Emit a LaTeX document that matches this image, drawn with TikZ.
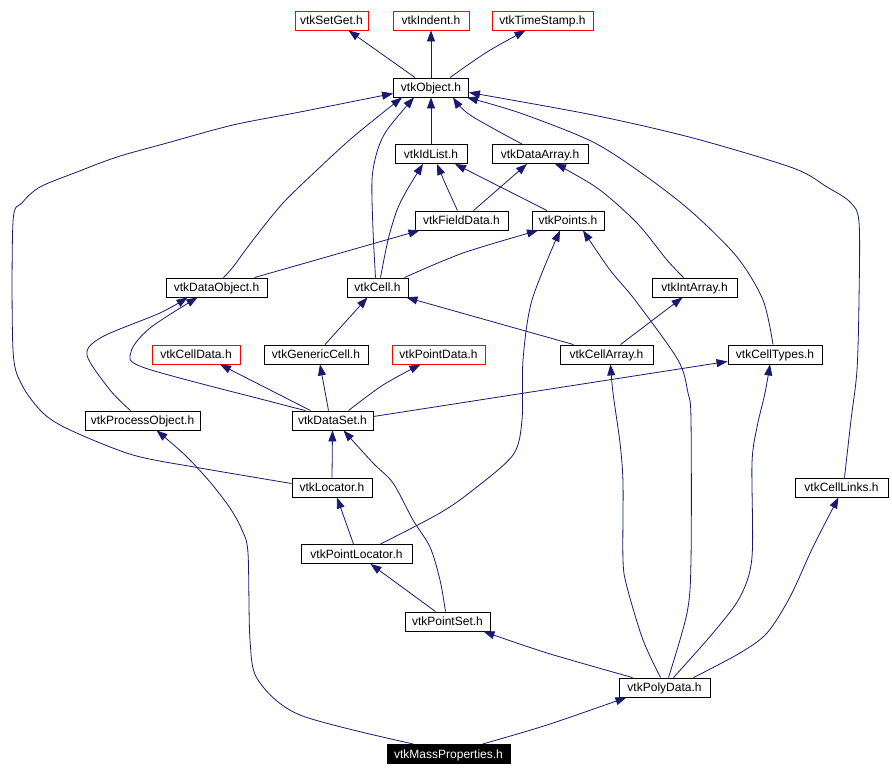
\documentclass[tikz,border=0pt]{standalone}
\usepackage{fontspec}
\setmainfont{Liberation Sans}
\usetikzlibrary{arrows.meta}
\definecolor{edgeblue}{RGB}{25,25,112}
\definecolor{boxred}{RGB}{255,0,0}
\tikzset{
  box/.style={draw=black, line width=0.9pt, fill=white, inner xsep=3pt, inner ysep=0pt,
    minimum height=19pt, text height=10pt, text depth=2pt,
    font=\fontsize{12}{14}\selectfont, text=black},
  redbox/.style={box, draw=boxred},
  blackbox/.style={box, fill=black, text=white},
  edge/.style={draw=edgeblue, line width=0.8pt, -{Triangle[length=11pt,width=8pt]}},
}
\begin{document}
\begin{tikzpicture}[x=1pt,y=-1pt]
\useasboundingbox (0,0) rectangle (892,776);
\fill[white] (0,0) rectangle (892,776);

% nodes
\node[redbox, minimum width=73pt] (SetGet) at (331.5,20.5) {vtkSetGet.h};
\node[redbox, minimum width=76pt] (Indent) at (431,20.5) {vtkIndent.h};
\node[redbox, minimum width=101pt] (TimeStamp) at (542.5,20.5) {vtkTimeStamp.h};
\node[box, minimum width=75pt] (Object) at (431,87.5) {vtkObject.h};
\node[box, minimum width=72pt] (IdList) at (431,154) {vtkIdList.h};
\node[box, minimum width=96pt] (DataArray) at (540,154) {vtkDataArray.h};
\node[box, minimum width=93pt] (FieldData) at (461.5,220.5) {vtkFieldData.h};
\node[box, minimum width=72pt] (Points) at (568,220.5) {vtkPoints.h};
\node[box, minimum width=61pt] (Cell) at (377.5,287.5) {vtkCell.h};
\node[box, minimum width=101pt] (DataObject) at (216.5,287.5) {vtkDataObject.h};
\node[box, minimum width=85pt] (IntArray) at (694.5,287.5) {vtkIntArray.h};
\node[redbox, minimum width=88pt] (CellData) at (196,354.5) {vtkCellData.h};
\node[box, minimum width=104pt] (GenericCell) at (316,354.5) {vtkGenericCell.h};
\node[redbox, minimum width=93pt] (PointData) at (438.5,354.5) {vtkPointData.h};
\node[box, minimum width=93pt] (CellArray) at (606.5,354.5) {vtkCellArray.h};
\node[box, minimum width=94pt] (CellTypes) at (775,354.5) {vtkCellTypes.h};
\node[box, minimum width=115pt] (ProcessObject) at (142.5,420.5) {vtkProcessObject.h};
\node[box, minimum width=81pt] (DataSet) at (332.5,420.5) {vtkDataSet.h};
\node[box, minimum width=80pt] (Locator) at (332,487.5) {vtkLocator.h};
\node[box, minimum width=93pt] (CellLinks) at (841.5,487.5) {vtkCellLinks.h};
\node[box, minimum width=111pt] (PointLocator) at (356.5,554) {vtkPointLocator.h};
\node[box, minimum width=85pt] (PointSet) at (447.5,621.5) {vtkPointSet.h};
\node[box, minimum width=91pt] (PolyData) at (664.5,687.5) {vtkPolyData.h};
\node[blackbox, minimum width=123pt] (MassProperties) at (448.5,754) {vtkMassProperties.h};

% edges (child -> included header)
\draw[edge] ([xshift=-16pt]Object.north) -- ([xshift=17pt]SetGet.south);
\draw[edge] (Object.north) -- (Indent.south);
\draw[edge] plot[smooth] coordinates {([xshift=19pt]Object.north) (487,52) ([xshift=-17pt]TimeStamp.south)};
\draw[edge] (IdList.north) -- (Object.south);
\draw[edge] plot[smooth] coordinates {([xshift=-18pt]DataArray.north) (470,115) ([xshift=22pt]Object.south)};
\draw[edge] plot[smooth] coordinates {([xshift=-2pt]Cell.north) (373,230) (372,180) (377,152) (387,130) ([xshift=-17pt]Object.south)};
\draw[edge] plot[smooth] coordinates {([xshift=7pt]DataObject.north) (233,267) (253,240) (283,203) (317,170) (353,137) ([xshift=-29pt]Object.south)};
\draw[edge] plot[smooth] coordinates {([yshift=4pt]Locator.west) (200,468) (133,455) (70,430) (43,413) (22,385) (13,350) (13,222) (22,203) (40,187) (77,172) (117,157) (167,143) (233,125) (300,112) ([yshift=-6pt]Object.west)};
\draw[edge] plot[smooth] coordinates {([xshift=3pt]CellLinks.north) (851,420) (857,370) (859,300) (859,222) (850,202) (827,187) (793,168) (693,138) (593,115) ([yshift=-5pt]Object.east)};
\draw[edge] plot[smooth] coordinates {([xshift=-2pt]CellTypes.north) (763,300) (737,257) (693,213) (647,177) (593,142) (520,113) ([xshift=-2pt]Object.south east)};
\draw[edge] plot[smooth] coordinates {([xshift=-4pt]FieldData.north) (445,183) ([xshift=6pt]IdList.south)};
\draw[edge] ([xshift=12pt]FieldData.north) -- ([xshift=-13pt]DataArray.south);
\draw[edge] ([xshift=-21pt]Points.north) -- ([xshift=24pt]IdList.south);
\draw[edge] plot[smooth] coordinates {([xshift=-11pt]IntArray.north) (667,260) (637,223) (600,190) (567,170) ([xshift=15pt]DataArray.south)};
\draw[edge] plot[smooth] coordinates {([xshift=3pt]Cell.north) (388,240) (397,210) (407,190) ([xshift=-8pt]IdList.south)};
\draw[edge] plot[smooth] coordinates {([xshift=-4pt]Cell.north east) (463,253) ([xshift=-30pt]Points.south)};
\draw[edge] ([xshift=-13pt]DataObject.north east) -- ([xshift=-42pt]FieldData.south);
\draw[edge] plot[smooth] coordinates {([xshift=24pt]PointLocator.north) (440,513) (473,490) (513,455) (522,420) (523,360) (532,300) ([xshift=-8pt]Points.south)};
\draw[edge] plot[smooth] coordinates {([xshift=4pt]PolyData.north) (687,613) (691,560) (691,420) (688,393) (678,360) (635,300) (610,270) ([xshift=15pt]Points.south)};
\draw[edge] plot[smooth] coordinates {([xshift=-4pt]PolyData.north) (643,640) (627,587) (623,560) (623,483) (620,443) (613,393) ([xshift=4pt]CellArray.south)};
\draw[edge] plot[smooth] coordinates {([xshift=9pt]PolyData.north) (713,633) (740,597) (752,557) (752,463) (757,427) (765,393) ([xshift=-5pt]CellTypes.south)};
\draw[edge] plot[smooth] coordinates {([xshift=29pt]PolyData.north) (740,653) (767,633) (790,597) (813,547) ([xshift=-3pt]CellLinks.south)};
\draw[edge] plot[smooth] coordinates {([xshift=-32pt]PolyData.north) (547,653) ([xshift=36pt]PointSet.south)};
\draw[edge] plot[smooth] coordinates {([xshift=34pt]MassProperties.north) (547,725) ([xshift=-38pt]PolyData.south)};
\draw[edge] plot[smooth] coordinates {([xshift=-35pt]MassProperties.north) (300,715) (258,680) (250,640) (248,553) (242,530) (230,508) (210,482) (185,455) ([xshift=14pt]ProcessObject.south)};
\draw[edge] ([xshift=-33pt]CellArray.north) -- ([xshift=-2pt]Cell.south east);
\draw[edge] plot[smooth] coordinates {([xshift=14pt]CellArray.north) (637,332) ([xshift=-12pt]IntArray.south)};
\draw[edge] ([xshift=9pt]GenericCell.north) -- ([xshift=-10pt]Cell.south);
\draw[edge] ([xshift=-22pt]DataSet.north) -- ([xshift=24pt]CellData.south);
\draw[edge] ([xshift=-4pt]DataSet.north) -- ([xshift=4pt]GenericCell.south);
\draw[edge] plot[smooth] coordinates {([xshift=16pt]DataSet.north) (383,385) ([xshift=-18pt]PointData.south)};
\draw[edge] ([yshift=4pt]DataSet.east) -- ([yshift=3pt]CellTypes.south west);
\draw[edge] plot[smooth] coordinates {([xshift=-27pt]DataSet.north) (280,404) (145,368) (131,352) (150,328) ([xshift=-19pt]DataObject.south)};
\draw[edge] plot[smooth] coordinates {([xshift=-12pt]ProcessObject.north) (110,390) (87,355) (102,337) (160,313) ([xshift=-29pt]DataObject.south)};
\draw[edge] (Locator.north) -- (DataSet.south);
\draw[edge] ([xshift=-3pt]PointLocator.north) -- ([xshift=5pt]Locator.south);
\draw[edge] ([xshift=-12pt]PointSet.north) -- ([xshift=14pt]PointLocator.south);
\draw[edge] plot[smooth] coordinates {([xshift=-2pt]PointSet.north) (440,580) (430,547) (413,520) (393,483) (373,463) ([xshift=11pt]DataSet.south)};
\end{tikzpicture}
\end{document}
